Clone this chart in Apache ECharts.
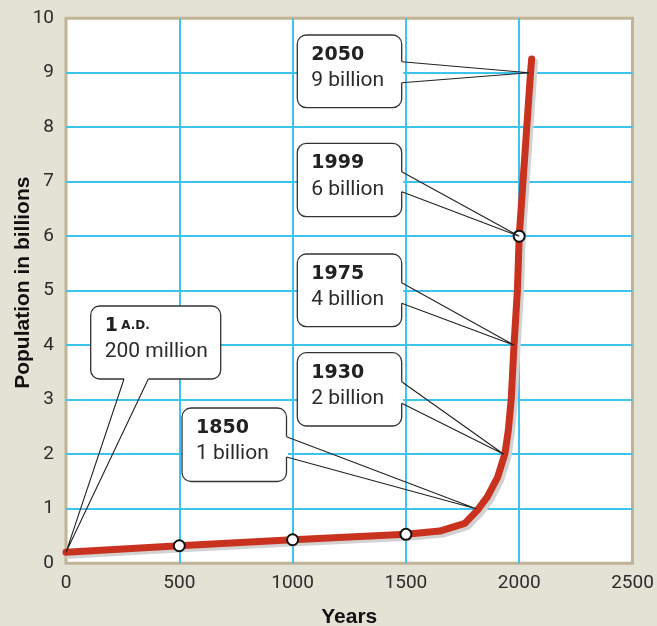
<!DOCTYPE html>
<html>
<head>
<meta charset="utf-8">
<script src="https://cdn.jsdelivr.net/npm/echarts@6/dist/echarts.min.js"></script>
<style>
  html, body { margin: 0; padding: 0; background: #e4e1d5; }
  #chart { width: 657px; height: 626px; }
</style>
</head>
<body>
<div id="chart"></div>
<script>
// World population growth curve, year vs. billions of people
const years      = [0,   500,  1000, 1500, 1650, 1760, 1815, 1860, 1905, 1937, 1952, 1965, 1977, 1992, 2000, 2050, 2055];
const population = [0.2, 0.32, 0.43, 0.53, 0.59, 0.73, 0.97, 1.22, 1.58, 2.01, 2.44, 3.02, 4.0,  5.0,  6.0,  9.0,  9.25];

// hollow markers placed on the curve
const markerYears  = [500,  1000, 1500, 2000];
const markerValues = [0.32, 0.43, 0.53, 6.0];

// callout captions and where each pointer lands on the curve
const calloutTitles   = ['1', '1850', '1930', '1975', '1999', '2050'];
const calloutSubs     = ['200 million', '1 billion', '2 billion', '4 billion', '6 billion', '9 billion'];
const calloutAtYear   = [0,   1810, 1932, 1978, 2000, 2043];
const calloutAtValue  = [0.2, 1.0,  2.0,  4.0,  6.0,  9.0];

// axis ticks
const xTicks = [0, 500, 1000, 1500, 2000, 2500];
const yTicks = [0, 1, 2, 3, 4, 5, 6, 7, 8, 9, 10];

const chart = echarts.init(document.getElementById('chart'), null, { renderer: 'canvas' });

const GRID_BLUE = '#3cc3ee';
const TEXT = '#2b2b2b';

const option = {
  backgroundColor: '#e4e1d5',
  animation: false,
  grid: {
    left: 66, right: 24.5, top: 18.2, bottom: 62.8,
    containLabel: false,
    outerBoundsMode: 'none',
    show: true,
    backgroundColor: '#ffffff',
    borderColor: '#c1b396',
    borderWidth: 3
  },
  xAxis: {
    type: 'value',
    min: xTicks[0], max: xTicks[xTicks.length - 1], interval: xTicks[1] - xTicks[0],
    name: 'Years',
    nameLocation: 'middle',
    nameGap: 44,
    nameMoveOverlap: false,
    nameTextStyle: { fontFamily: 'Liberation Sans', fontWeight: 'bold', fontSize: 21, color: '#111' },
    axisLine: { show: false },
    axisTick: { show: false },
    axisLabel: { fontFamily: 'Roboto', fontSize: 19, color: TEXT, margin: 11, formatter: v => String(v) },
    splitLine: { show: true, showMinLine: false, showMaxLine: false, lineStyle: { color: GRID_BLUE, width: 2 } }
  },
  yAxis: {
    type: 'value',
    min: yTicks[0], max: yTicks[yTicks.length - 1], interval: yTicks[1] - yTicks[0],
    name: 'Population in billions',
    nameLocation: 'middle',
    nameGap: 32,
    nameMoveOverlap: false,
    nameTextStyle: {
      fontFamily: 'Liberation Sans', fontWeight: 'bold', fontSize: 21, color: '#111',
      padding: [0, 0, 0, 16]
    },
    axisLine: { show: false },
    axisTick: { show: false },
    axisLabel: { fontFamily: 'Roboto', fontSize: 19, color: TEXT, margin: 12, formatter: v => String(v) },
    splitLine: { show: true, showMinLine: false, showMaxLine: false, lineStyle: { color: GRID_BLUE, width: 2 } }
  },
  series: [
    {
      type: 'line',
      data: years.map((y, i) => [y, population[i]]),
      showSymbol: false,
      symbol: 'none',
      clip: false,
      z: 3,
      lineStyle: {
        color: '#c8321e',
        width: 7,
        cap: 'round',
        join: 'round',
        shadowColor: '#d2d2d2',
        shadowBlur: 0,
        shadowOffsetX: 3,
        shadowOffsetY: 3
      }
    },
    {
      type: 'scatter',
      data: markerYears.map((y, i) => [y, markerValues[i]]),
      symbol: 'circle',
      symbolSize: 11,
      z: 4,
      itemStyle: { color: '#ffffff', borderColor: '#111111', borderWidth: 2, opacity: 1 }
    }
  ]
};

chart.setOption(option);

// Callout boxes: layout in pixels, pointer tips come from the axes.
const boxes = [
  { x: 90.7,  y: 306,   w: 130,   h: 73,   side: 'bottom', a: 33.3, b: 57.6 },
  { x: 182,   y: 408,   w: 104.5, h: 73.5, side: 'right',  a: 28.7, b: 49 },
  { x: 297.3, y: 352.7, w: 104.4, h: 73.3, side: 'right',  a: 29,   b: 50.6 },
  { x: 297.3, y: 254,   w: 104.4, h: 72.7, side: 'right',  a: 28.7, b: 49.3 },
  { x: 297.3, y: 143.3, w: 104.4, h: 73.4, side: 'right',  a: 28.4, b: 48.4 },
  { x: 297.3, y: 35,    w: 104.4, h: 72.7, side: 'right',  a: 26.7, b: 47.7 }
];

const graphics = [];
boxes.forEach((bx, i) => {
  const tip = chart.convertToPixel({ xAxisIndex: 0, yAxisIndex: 0 }, [calloutAtYear[i], calloutAtValue[i]]);
  let p1, p2;
  if (bx.side === 'right') {
    p1 = [bx.x + bx.w, bx.y + bx.a];
    p2 = [bx.x + bx.w, bx.y + bx.b];
  } else {
    p1 = [bx.x + bx.a, bx.y + bx.h];
    p2 = [bx.x + bx.b, bx.y + bx.h];
  }
  graphics.push({
    type: 'rect', z: 100, silent: true,
    shape: { x: bx.x, y: bx.y, width: bx.w, height: bx.h, r: 9 },
    style: { fill: '#ffffff', stroke: '#333333', lineWidth: 1.3 }
  });
  graphics.push({
    type: 'line', z: 101, silent: true,
    shape: { x1: p1[0], y1: p1[1], x2: p2[0], y2: p2[1] },
    style: { stroke: '#ffffff', lineWidth: 3 }
  });
  graphics.push({
    type: 'polyline', z: 102, silent: true,
    shape: { points: [p1, tip, p2] },
    style: { stroke: '#222222', lineWidth: 1.1, fill: null }
  });
  const titleText = i === 0 ? '{b|1} {sc|A.D.}' : '{b|' + calloutTitles[i] + '}';
  graphics.push({
    type: 'text', z: 103, silent: true,
    x: bx.x + 14, y: bx.y + 7,
    style: {
      text: titleText + '\n{r|' + calloutSubs[i] + '}',
      fill: '#222222',
      rich: {
        b:  { fontFamily: 'DejaVu Sans', fontWeight: 'bold', fontSize: 19, lineHeight: 26, fill: '#222222' },
        sc: { fontFamily: 'DejaVu Sans', fontWeight: 'bold', fontSize: 12, lineHeight: 26, fill: '#222222' },
        r:  { fontFamily: 'Roboto', fontSize: 21, lineHeight: 26, fill: '#2b2b2b' }
      }
    }
  });
});

chart.setOption({ graphic: { elements: graphics } });
</script>
</body>
</html>
